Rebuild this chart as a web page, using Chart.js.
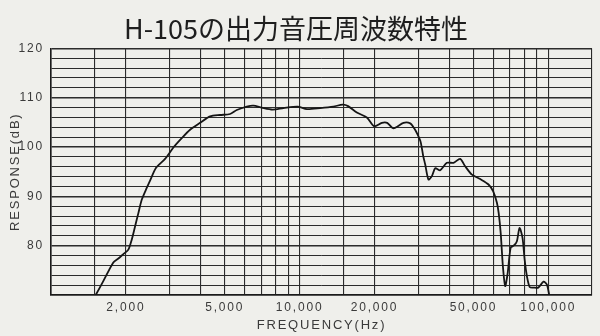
<!DOCTYPE html>
<html>
<head>
<meta charset="utf-8">
<script src="https://cdn.jsdelivr.net/npm/chart.js@4.4.1/dist/chart.umd.min.js"></script>
<style>
  html, body { margin: 0; padding: 0; background: #efefeb; }
  #wrap { width: 600px; height: 336px; position: relative; }
</style>
</head>
<body>
<div id="wrap"><canvas id="c" width="600" height="336"></canvas></div>
<script>
// ---- data ----
const chartTitle = 'H-105の出力音圧周波数特性';
const xAxisTitle = 'FREQUENCY(Hz)';
const yAxisTitle = 'RESPONSE(dB)';

const freqHz = [1513, 1623, 1781, 1866, 1954, 2047, 2112, 2178, 2246, 2317, 2427, 2503, 2646, 2876, 3106,
  3357, 3626, 3978, 4363, 4787, 5252, 5588, 6131, 6518, 7044, 7786, 8606, 9817, 10690, 12090, 13680,
  14900, 15670, 16990, 18640, 19940, 21420, 22500, 23850, 26170, 27850, 28900, 29840, 30690, 31410,
  31990, 32980, 34040, 35110, 36770, 39120, 41590, 44240, 46340, 49320, 53260, 57520, 60070, 62170,
  63210, 64410, 65720, 67140, 68710, 70640, 72970, 74820, 76660, 78820, 80440, 82100, 84270, 87280,
  91170, 95750, 98800, 100900];
const responseDb = [70, 72.8, 76.6, 77.4, 78.3, 79.2, 81.2, 83.9, 86.6, 89.3, 91.7, 93.2, 95.8, 97.6, 99.9,
  101.8, 103.5, 104.9, 106.2, 106.5, 106.7, 107.5, 108.2, 108.4, 108.0, 107.6, 107.9, 108.2, 107.7, 107.9, 108.2,
  108.6, 108.3, 107.0, 106.0, 104.2, 104.9, 104.9, 103.8, 104.9, 104.8, 103.8, 102.5, 101.0, 98.2,
  96.5, 93.4, 94.1, 95.7, 95.3, 96.8, 96.8, 97.6, 96.1, 94.4, 93.5, 92.4, 91.0, 88.7,
  86.6, 82.5, 75.8, 71.8, 74.5, 79.6, 80.1, 80.9, 83.6, 81.6, 77.0, 73.8, 71.6, 71.5,
  71.5, 72.7, 72.1, 70];

const xGridFreqs = [1000, 1500, 2000, 3000, 4000, 5000, 6000, 7000, 8000, 9000, 10000, 15000, 20000,
  30000, 40000, 50000, 60000, 70000, 80000, 90000, 100000, 150000];
const xLabelFreqs = [2000, 5000, 10000, 20000, 50000, 100000];
const yLabelValues = [80, 90, 100, 110, 120];
const yMin = 70, yMax = 120, yStep = 2;

// ---- chart ----
const points = freqHz.map((f, i) => ({ x: f, y: responseDb[i] }));
const INK = '#2b2b2b';

const spacingPlugin = {
  id: 'spacing',
  beforeDraw(chart) { chart.ctx.letterSpacing = '1.8px'; },
  afterDraw(chart) { chart.ctx.letterSpacing = '0px'; }
};

const chart = new Chart(document.getElementById('c'), {
  type: 'scatter',
  data: {
    datasets: [{
      data: points,
      showLine: true,
      borderColor: '#151515',
      borderWidth: 1.8,
      pointRadius: 0,
      tension: 0.25,
      fill: false
    }]
  },
  options: {
    responsive: false,
    animation: false,
    devicePixelRatio: 1,
    layout: { padding: { left: 0, right: 8, top: 0, bottom: 0 } },
    plugins: {
      legend: { display: false },
      tooltip: { enabled: false },
      title: {
        display: true,
        text: chartTitle,
        color: '#1e1e1e',
        font: { family: '"Noto Sans CJK JP", "Noto Sans", sans-serif', size: 27, weight: 'normal', lineHeight: 1.2 },
        padding: { top: 13, bottom: 3 }
      }
    },
    scales: {
      x: {
        type: 'logarithmic',
        min: 1000,
        max: 150000,
        afterBuildTicks(scale) { scale.ticks = xGridFreqs.map(v => ({ value: v })); },
        afterFit(scale) { scale.height = 41; },
        ticks: {
          autoSkip: false,
          maxRotation: 0,
          padding: 5,
          color: '#3a3a3a',
          font: { family: 'Liberation Sans, Arial, sans-serif', size: 12 },
          callback(v) { return xLabelFreqs.includes(v) ? v.toLocaleString('en-US') : ''; }
        },
        grid: {
          color: INK,
          lineWidth: 1.1,
          drawTicks: false
        },
        border: { color: '#1a1a1a', width: 1.6 },
        title: {
          display: true,
          text: xAxisTitle,
          color: '#3a3a3a',
          font: { family: 'Liberation Sans, Arial, sans-serif', size: 13 },
          padding: { top: 0, bottom: 3 }
        }
      },
      y: {
        min: yMin,
        max: yMax,
        afterFit(scale) { scale.width = 51; },
        ticks: {
          stepSize: yStep,
          autoSkip: false,
          padding: 7,
          color: '#3a3a3a',
          font: { family: 'Liberation Sans, Arial, sans-serif', size: 12 },
          callback(v) { return yLabelValues.includes(v) ? String(v) : ''; }
        },
        grid: {
          color: INK,
          lineWidth: ctx => (ctx.tick && ctx.tick.value % 10 === 0) ? 1.6 : 1,
          drawTicks: false
        },
        border: { color: '#1a1a1a', width: 1.6 },
        title: {
          display: true,
          text: yAxisTitle,
          color: '#3a3a3a',
          font: { family: 'Liberation Sans, Arial, sans-serif', size: 13 },
          padding: { top: 8, bottom: 0 }
        }
      }
    }
  },
  plugins: [spacingPlugin]
});

// keep the main title without letter spacing
if (chart.titleBlock) {
  const tb = chart.titleBlock;
  const orig = tb.draw.bind(tb);
  tb.draw = function (a) {
    const c = this.ctx;
    const prev = c.letterSpacing;
    c.letterSpacing = '0px';
    orig(a);
    c.letterSpacing = prev;
  };
  chart.draw();
}
</script>
</body>
</html>
